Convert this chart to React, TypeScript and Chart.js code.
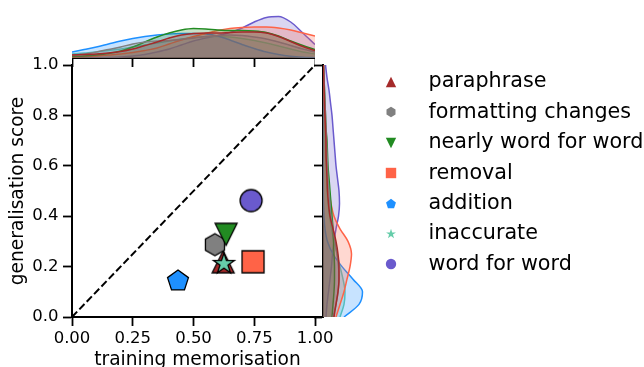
import React, { useEffect, useRef } from "react";
import { Chart, registerables } from "chart.js";

Chart.register(...registerables);

const categories = [
  "paraphrase",
  "formatting changes",
  "nearly word for word",
  "removal",
  "addition",
  "inaccurate",
  "word for word",
];
const memorisation = [0.622, 0.588, 0.634, 0.745, 0.436, 0.625, 0.737];
const generalisation = [0.219, 0.287, 0.328, 0.219, 0.143, 0.211, 0.462];

const xTicks = [0, 0.25, 0.5, 0.75, 1];
const yTicks = [0, 0.2, 0.4, 0.6, 0.8, 1];
const diagonalX = [0, 1];
const diagonalY = [0, 1];

const densityGrid = [0, 0.05, 0.1, 0.15, 0.2, 0.25, 0.3, 0.35, 0.4, 0.45, 0.5, 0.55, 0.6, 0.65, 0.7, 0.75, 0.8, 0.85, 0.9, 0.95, 1];

// marginal density of training memorisation (top), one row per category
const memorisationDensity = [
  [3, 3.5, 4, 5, 6.5, 9, 12.5, 16, 20, 23, 24.5, 25, 25, 25.5, 26, 26, 25, 21.5, 16.5, 11.5, 7.5],
  [3, 4, 6, 8.5, 11, 14, 16, 17, 17.5, 18.5, 20, 21.5, 22.5, 23, 22.5, 21, 19, 16, 12.5, 9, 6],
  [1.5, 2, 3, 4.5, 7, 11, 16, 21, 25, 28, 29.5, 29, 28, 27.5, 27.5, 27, 25.5, 22, 17, 12.5, 8.5],
  [1, 1.5, 2, 3, 4, 5.5, 7.5, 10, 14, 18, 21.5, 24.5, 27.5, 29.5, 30.5, 31, 31, 30, 28, 25, 22],
  [6, 8.5, 11, 14, 17, 19.5, 21.5, 23, 24, 24.5, 24.5, 24, 22, 18, 13.5, 9.5, 6, 3.5, 1.8, 0.8, 0.3],
  [4, 5, 6, 7.5, 9, 11, 13, 15, 17, 19, 20.5, 21.5, 21.5, 21, 19.5, 17.5, 15, 12, 9, 6, 4],
  [0, 0, 0.2, 0.5, 1, 2, 3.5, 6, 9, 13, 17, 20, 22.5, 25.5, 30, 36, 40.5, 41.5, 36, 25, 13.5],
];

// marginal density of generalisation score (right), one row per category
const generalisationDensity = [
  [11, 13, 15, 16, 16, 15, 13, 10, 7, 5.5, 4.5, 4, 3.5, 3, 3, 2.5, 2, 1.5, 1.2, 0.8, 0.5],
  [10, 13, 15, 16, 15.5, 14, 12, 10, 8, 7, 6, 5, 4.5, 4, 3.5, 3, 2.5, 2, 1.5, 1, 0.6],
  [9, 10, 11, 11.5, 11.5, 11, 10.5, 10, 9, 8, 7, 6, 5, 4.5, 4, 3, 2.5, 2, 1.5, 1, 0.5],
  [13, 17, 21, 24, 27, 28.5, 25, 17, 11, 8, 6, 5, 4, 3.5, 3, 2.5, 2, 1.5, 1, 0.6, 0.3],
  [21, 36, 39.5, 30, 19, 10, 4.5, 2, 1, 0.5, 0.3, 0.2, 0.2, 0.1, 0.1, 0.1, 0.1, 0.1, 0.1, 0.1, 0.1],
  [17, 21, 22, 20, 17, 14, 11, 8.5, 6.5, 5, 4, 3.5, 3, 2.5, 2, 1.5, 1.2, 1, 0.7, 0.5, 0.3],
  [3, 4, 5.5, 7, 8.5, 9.5, 11, 13, 15.5, 16.5, 16, 14.5, 13, 12, 11, 10, 9, 7.5, 6, 4, 2.5],
];

const palette = ["#A52A2A", "#808080", "#228B22", "#FF6347", "#1E90FF", "#66CDAA", "#6A5ACD"];
const shapes = ["triangleUp", "hexagon", "triangleDown", "square", "pentagon", "star", "circle"];

const FONT = '"DejaVu Sans", sans-serif';

function rgba(hex: string, a: number) {
  const n = parseInt(hex.slice(1), 16);
  return `rgba(${(n >> 16) & 255},${(n >> 8) & 255},${n & 255},${a})`;
}

function shapePoints(shape: string, cx: number, cy: number, r: number): number[][] {
  const poly = (radii: number[], n: number) => {
    const pts: number[][] = [];
    for (let k = 0; k < n; k++) {
      const ang = -Math.PI / 2 + (2 * Math.PI * k) / n;
      const rr = radii[k % radii.length];
      pts.push([cx + rr * Math.cos(ang), cy + rr * Math.sin(ang)]);
    }
    return pts;
  };
  switch (shape) {
    case "square":
      return [[cx - r, cy - r], [cx + r, cy - r], [cx + r, cy + r], [cx - r, cy + r]];
    case "triangleUp":
      return [[cx, cy - r], [cx + r, cy + r], [cx - r, cy + r]];
    case "triangleDown":
      return [[cx, cy + r], [cx - r, cy - r], [cx + r, cy - r]];
    case "pentagon":
      return poly([r], 5);
    case "hexagon":
      return poly([r], 6);
    case "star":
      return poly([r, r * 0.381966], 10);
    default:
      return [];
  }
}

function makeMarker(shape: string, color: string, ms: number, edge: number) {
  const size = Math.ceil(ms + edge + 4);
  const c = document.createElement("canvas");
  c.width = size;
  c.height = size;
  const ctx = c.getContext("2d")!;
  const cx = size / 2;
  const cy = size / 2;
  const r = ms / 2;
  ctx.beginPath();
  if (shape === "circle") {
    ctx.arc(cx, cy, r, 0, Math.PI * 2);
  } else {
    const pts = shapePoints(shape, cx, cy, r);
    pts.forEach((p, k) => (k === 0 ? ctx.moveTo(p[0], p[1]) : ctx.lineTo(p[0], p[1])));
    ctx.closePath();
  }
  ctx.fillStyle = color;
  ctx.fill();
  if (edge > 0) {
    ctx.lineWidth = edge;
    ctx.strokeStyle = "#000";
    ctx.lineJoin = "miter";
    ctx.stroke();
  }
  return c;
}

function LegendMarker({ shape, color }: { shape: string; color: string }) {
  const r = 5.2;
  const c = 11;
  return (
    <svg width={22} height={22} style={{ position: "absolute", left: 0, top: 0 }}>
      {shape === "circle" ? (
        <circle cx={c} cy={c} r={r} fill={color} />
      ) : (
        <polygon points={shapePoints(shape, c, c, r).map((p) => p.join(",")).join(" ")} fill={color} />
      )}
    </svg>
  );
}

const tickGrid = { drawOnChartArea: false, tickLength: 9, tickWidth: 1.8, tickColor: "#000" };
const spine = { display: true, width: 2, color: "#000" };

export default function App() {
  const mainRef = useRef<HTMLCanvasElement>(null);
  const topRef = useRef<HTMLCanvasElement>(null);
  const rightRef = useRef<HTMLCanvasElement>(null);

  useEffect(() => {
    const charts: any[] = [];
    const markers = categories.map((_, i) => makeMarker(shapes[i], palette[i], 22, 1.3));

    charts.push(
      new Chart(mainRef.current!, {
        type: "scatter",
        data: {
          datasets: [
            ...categories.map((c, i) => ({
              label: c,
              data: [{ x: memorisation[i], y: generalisation[i] }],
              pointStyle: markers[i],
              pointRadius: 12,
              backgroundColor: palette[i],
              order: categories.length - i,
            })),
            {
              type: "line",
              label: "diagonal",
              data: diagonalX.map((x, j) => ({ x, y: diagonalY[j] })),
              borderColor: "#000",
              borderWidth: 2,
              borderDash: [7.4, 3.2],
              pointRadius: 0,
              showLine: true,
              fill: false,
              order: 100,
            },
          ],
        } as any,
        options: {
          animation: false,
          responsive: false,
          events: [],
          layout: { padding: { top: 65, right: 17, left: 0, bottom: 0 } },
          plugins: { legend: { display: false }, tooltip: { enabled: false } },
          scales: {
            x: {
              type: "linear",
              min: 0,
              max: 1.0329,
              afterBuildTicks: (s: any) => {
                s.ticks = xTicks.map((v) => ({ value: v }));
              },
              afterFit: (s: any) => {
                s.height = 50;
              },
              ticks: {
                callback: (v: any) => Number(v).toFixed(2),
                font: { family: FONT, size: 16.5 },
                color: "#000",
                padding: 2.5,
                maxRotation: 0,
                autoSkip: false,
              },
              grid: tickGrid,
              border: spine,
              title: {
                display: true,
                text: "training memorisation",
                color: "#000",
                font: { family: FONT, size: 18.6, lineHeight: 0.76 },
                padding: 0,
              },
            },
            y: {
              type: "linear",
              min: 0,
              max: 1,
              afterBuildTicks: (s: any) => {
                s.ticks = yTicks.map((v) => ({ value: v }));
              },
              afterFit: (s: any) => {
                s.width = 72;
              },
              ticks: {
                callback: (v: any) => Number(v).toFixed(1),
                font: { family: FONT, size: 16.5 },
                color: "#000",
                padding: 4.5,
                autoSkip: false,
              },
              grid: tickGrid,
              border: spine,
              title: {
                display: true,
                text: "generalisation score",
                color: "#000",
                font: { family: FONT, size: 18.6, lineHeight: 0.9 },
                padding: { top: 10, bottom: 0 },
              },
            },
          },
        } as any,
      })
    );

    charts.push(
      new Chart(topRef.current!, {
        type: "line",
        data: {
          datasets: categories.map((c, i) => ({
            label: c,
            data: densityGrid.map((x, j) => ({ x, y: memorisationDensity[i][j] })),
            borderColor: palette[i],
            backgroundColor: rgba(palette[i], 0.25),
            borderWidth: 1.5,
            pointRadius: 0,
            fill: "origin",
            cubicInterpolationMode: "monotone",
          })),
        } as any,
        options: {
          animation: false,
          responsive: false,
          events: [],
          layout: { padding: 0 },
          plugins: { legend: { display: false }, tooltip: { enabled: false } },
          scales: {
            x: {
              type: "linear",
              min: 0,
              max: 1,
              afterBuildTicks: (s: any) => {
                s.ticks = xTicks.map((v) => ({ value: v }));
              },
              afterFit: (s: any) => {
                s.height = 9;
              },
              ticks: { display: false },
              grid: tickGrid,
              border: spine,
            },
            y: { type: "linear", min: 0, max: 58, display: false },
          },
        } as any,
      })
    );

    charts.push(
      new Chart(rightRef.current!, {
        type: "line",
        data: {
          datasets: categories.map((c, i) => ({
            label: c,
            data: densityGrid.map((y, j) => ({ x: generalisationDensity[i][j], y })),
            borderColor: palette[i],
            backgroundColor: rgba(palette[i], 0.25),
            borderWidth: 1.5,
            pointRadius: 0,
            fill: "origin",
            cubicInterpolationMode: "monotone",
          })),
        } as any,
        options: {
          animation: false,
          responsive: false,
          events: [],
          indexAxis: "y",
          layout: { padding: { top: 5, bottom: 5, left: 0, right: 0 } },
          plugins: { legend: { display: false }, tooltip: { enabled: false } },
          scales: {
            x: { type: "linear", min: 0, max: 61, display: false },
            y: {
              type: "linear",
              min: 0,
              max: 1,
              position: "left",
              afterBuildTicks: (s: any) => {
                s.ticks = yTicks.map((v) => ({ value: v }));
              },
              afterFit: (s: any) => {
                s.width = 9;
              },
              ticks: { display: false },
              grid: tickGrid,
              border: spine,
            },
          },
        } as any,
      })
    );

    return () => charts.forEach((c) => c.destroy());
  }, []);

  const rowTop = 81.7;
  const rowGap = 30.45;

  return (
    <div style={{ position: "absolute", left: 0, top: 0, width: 644, height: 367, background: "#fff", overflow: "hidden" }}>
      <canvas ref={mainRef} width={340} height={367} style={{ position: "absolute", left: 0, top: 0, width: 340, height: 367 }} />
      <canvas ref={topRef} width={243} height={67} style={{ position: "absolute", left: 72, top: 0, width: 243, height: 67 }} />
      <canvas ref={rightRef} width={70} height={262} style={{ position: "absolute", left: 314, top: 60, width: 70, height: 262 }} />
      {categories.map((c, i) => {
        const cy = rowTop + i * rowGap;
        return (
          <div key={c}>
            <div style={{ position: "absolute", left: 380, top: cy - 11, width: 22, height: 22 }}>
              <LegendMarker shape={shapes[i]} color={palette[i]} />
            </div>
            <div
              style={{
                position: "absolute",
                left: 428.5,
                top: cy - 15.22 - 1.3,
                height: 30.45,
                lineHeight: "30.45px",
                fontFamily: FONT,
                fontSize: 20.7,
                color: "#000",
                whiteSpace: "nowrap",
              }}
            >
              {c}
            </div>
          </div>
        );
      })}
    </div>
  );
}
